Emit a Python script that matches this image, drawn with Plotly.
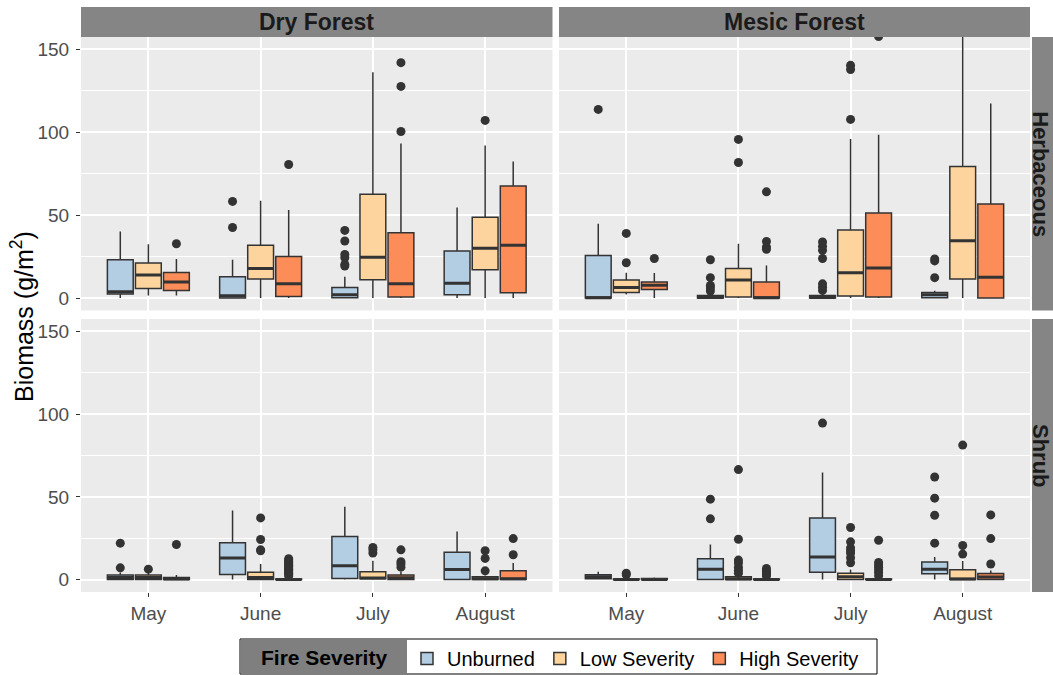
import plotly.graph_objects as go

# ---------------- data ----------------
MONTHS = ["May", "June", "July", "August"]
SEVERITIES = ["Unburned", "Low Severity", "High Severity"]
FILLS = ["#B3CDE3", "#FDD49E", "#FC8D59"]
FORESTS = ["Dry Forest", "Mesic Forest"]
GROWTH_FORMS = ["Herbaceous", "Shrub"]
Y_TICK_STEP = 50

# each box: lower whisker, Q1, median, Q3, upper whisker (one value per month)
DRY_HERB_UNBURNED = {
    "lower": [0, 0, 0, 0], "q1": [2.4, 0, 0.2, 2.0], "median": [3.8, 1.4, 2.0, 9.0],
    "q3": [23.1, 12.9, 6.4, 28.4], "upper": [40.2, 23.1, 12.9, 54.7],
    "outliers": [[], [58.3, 42.6], [40.8, 34.4, 26.3, 24.3, 20.3, 19.3], []]}
DRY_HERB_LOW = {
    "lower": [1.6, 0, 0, 0], "q1": [5.8, 11.5, 11.1, 17.1], "median": [13.9, 17.9, 24.7, 30.0],
    "q3": [21.1, 31.8, 62.7, 48.7], "upper": [32.4, 58.7, 136.3, 92.1],
    "outliers": [[], [], [], [107.2]]}
DRY_HERB_HIGH = {
    "lower": [1.6, 0, 0, 0], "q1": [4.6, 1.0, 0.6, 3.2], "median": [9.7, 8.6, 8.6, 31.8],
    "q3": [15.5, 25.1, 39.4, 67.6], "upper": [23.5, 53.1, 93.3, 82.4],
    "outliers": [[32.8], [80.6], [142.0, 127.7, 100.5], []]}

MESIC_HERB_UNBURNED = {
    "lower": [0, 0, 0, 0], "q1": [0, 0, 0, 0.2], "median": [0.2, 0.4, 0.4, 2.0],
    "q3": [25.7, 1.6, 1.6, 3.4], "upper": [44.8, 3.5, 3.0, 4.4],
    "outliers": [[113.8], [23.1, 12.3, 7.6, 6.0, 4.2],
                 [33.8, 31.2, 28.8, 23.9, 8.6, 6.6, 4.6], [23.6, 22.4, 12.3]]}
MESIC_HERB_LOW = {
    "lower": [2.2, 0, 0, 0], "q1": [3.4, 0.6, 1.2, 11.5], "median": [6.4, 10.9, 15.3, 34.6],
    "q3": [10.9, 17.9, 41.0, 79.4], "upper": [15.3, 32.8, 95.9, 185.0],
    "outliers": [[39.0, 21.3], [95.7, 81.8], [140.4, 137.9, 107.8], []]}
MESIC_HERB_HIGH = {
    "lower": [0, 0, 0, 0], "q1": [5.2, 0, 0.6, 0], "median": [7.8, 0.2, 18.1, 12.5],
    "q3": [9.7, 9.7, 51.3, 56.7], "upper": [15.1, 19.7, 98.5, 117.4],
    "outliers": [[23.9], [64.1, 34.2, 30.8, 29.4], [157.8], []]}

DRY_SHRUB_UNBURNED = {
    "lower": [0, 0, 0, 0], "q1": [0, 3.1, 0.7, 0], "median": [1.3, 13.0, 8.3, 6.1],
    "q3": [2.7, 22.2, 26.0, 16.6], "upper": [4.3, 41.7, 44.1, 29.1],
    "outliers": [[22.0, 7.1], [], [], []]}
DRY_SHRUB_LOW = {
    "lower": [0, 0, 0, 0], "q1": [0, 0, 0.5, 0], "median": [1.3, 1.3, 0.9, 0.5],
    "q3": [2.7, 4.5, 4.7, 1.7], "upper": [4.3, 9.4, 11.4, 2.5],
    "outliers": [[6.3], [37.3, 24.2, 18.0, 17.4], [19.4, 18.0, 16.0], [17.4, 12.8, 5.3]]}
DRY_SHRUB_HIGH = {
    "lower": [0, 0, 0, 0], "q1": [0, 0, 0, 0], "median": [0.3, 0, 1.1, 0.5],
    "q3": [1.3, 0.4, 2.7, 5.3], "upper": [2.7, 1.0, 4.7, 10.0],
    "outliers": [[21.2],
                 [12.6, 11.8, 11.0, 10.2, 9.4, 8.6, 7.8, 7.0, 6.2, 5.4, 4.6, 3.8, 3.0, 2.2],
                 [18.0, 10.8, 9.4, 7.5], [24.8, 15.0]]}

MESIC_SHRUB_UNBURNED = {
    "lower": [0, 0, 0, 0], "q1": [0.5, 0, 4.5, 3.5], "median": [1.7, 6.3, 13.6, 6.3],
    "q3": [2.9, 12.6, 37.3, 10.6], "upper": [4.7, 21.2, 64.8, 13.6],
    "outliers": [[], [48.6, 36.7], [94.6], [62.0, 49.2, 38.9, 22.0]]}
MESIC_SHRUB_LOW = {
    "lower": [0, 0, 0, 0], "q1": [0, 0, 0, 0], "median": [0, 0.4, 1.7, 0.3],
    "q3": [0.3, 1.7, 3.9, 5.9], "upper": [0.7, 3.5, 6.1, 11.2],
    "outliers": [[3.9, 2.9], [66.5, 24.4, 11.8, 10.0, 7.5, 5.7, 3.9],
                 [31.5, 22.8, 19.2, 17.5, 16.0, 13.2, 10.2], [81.3, 20.6, 15.4]]}
MESIC_SHRUB_HIGH = {
    "lower": [0, 0, 0, 0], "q1": [0, 0, 0, 0], "median": [0.1, 0, 0, 1.5],
    "q3": [0.7, 0.3, 0.3, 3.7], "upper": [1.2, 0.8, 0.8, 5.5],
    "outliers": [[], [6.7, 5.3, 4.3, 3.1, 2.1], [23.8, 10.4, 9.0, 7.5, 5.9, 4.3, 2.3],
                 [39.1, 24.8, 9.4]]}

# panel layout: (row, col) -> series per severity
PANELS = {
    (0, 0): [DRY_HERB_UNBURNED, DRY_HERB_LOW, DRY_HERB_HIGH],
    (0, 1): [MESIC_HERB_UNBURNED, MESIC_HERB_LOW, MESIC_HERB_HIGH],
    (1, 0): [DRY_SHRUB_UNBURNED, DRY_SHRUB_LOW, DRY_SHRUB_HIGH],
    (1, 1): [MESIC_SHRUB_UNBURNED, MESIC_SHRUB_LOW, MESIC_SHRUB_HIGH],
}

# ---------------- geometry (pixels of the 1053x675 page) ----------------
W, H = 1053, 675
PL, PR, PT, PB = 81, 1030, 37, 592
COL_EDGES = [(81, 552.5), (559, 1030)]
ROW_EDGES = [(37, 310.5), (319, 592)]


def fx(p):
    return (p - PL) / (PR - PL)


def fy(p):
    return (PB - p) / (PB - PT)


FONT = "Liberation Sans, Arial, Helvetica, sans-serif"
LINE = "#333333"
GRID = "#FFFFFF"

fig = go.Figure()
layout = {}

for (r, c), series in PANELS.items():
    n = r * 2 + c + 1
    xa = "x" if n == 1 else f"x{n}"
    ya = "y" if n == 1 else f"y{n}"
    for k, (sev, fill, d) in enumerate(zip(SEVERITIES, FILLS, series)):
        common = dict(x=MONTHS, xaxis=xa, yaxis=ya, offsetgroup=sev,
                      alignmentgroup=f"box{n}", whiskerwidth=0, boxpoints=False,
                      hoverinfo="skip")
        fig.add_trace(go.Box(
            name=sev, legendgroup=sev, showlegend=(n == 1),
            q1=d["q1"], median=d["median"], q3=d["q3"],
            lowerfence=d["lower"], upperfence=d["upper"],
            fillcolor=fill, line=dict(color=LINE, width=1.5), **common))
        # thicker median bar drawn as a zero-height box on top
        fig.add_trace(go.Box(
            name=sev, legendgroup=sev, showlegend=False,
            q1=d["median"], median=d["median"], q3=d["median"],
            lowerfence=d["median"], upperfence=d["median"],
            fillcolor="rgba(0,0,0,0)", line=dict(color=LINE, width=3), **common))
        ox, oy = [], []
        for m, vals in zip(MONTHS, d["outliers"]):
            for v in vals:
                ox.append(m)
                oy.append(v)
        fig.add_trace(go.Scatter(
            x=ox, y=oy, xaxis=xa, yaxis=ya, mode="markers",
            offsetgroup=sev, alignmentgroup=f"pts{n}",
            marker=dict(color=LINE, size=9), showlegend=False,
            legendgroup=sev, hoverinfo="skip", cliponaxis=True))

    x0, x1 = COL_EDGES[c]
    y0, y1 = ROW_EDGES[r]
    layout["xaxis" if n == 1 else f"xaxis{n}"] = dict(
        domain=[fx(x0), fx(x1)], anchor=ya, type="category",
        categoryorder="array", categoryarray=MONTHS, range=[-0.6, 3.6],
        showgrid=True, gridcolor=GRID, gridwidth=2, zeroline=False, showline=False,
        ticks="outside" if r == 1 else "", ticklen=4, tickcolor=LINE,
        showticklabels=(r == 1), tickfont=dict(family=FONT, size=19, color="#4D4D4D"))
    layout["yaxis" if n == 1 else f"yaxis{n}"] = dict(
        domain=[fy(y1), fy(y0)], anchor=xa, range=[-7.5, 157.5],
        tickmode="linear", tick0=0, dtick=Y_TICK_STEP,
        showgrid=True, gridcolor=GRID, gridwidth=2, zeroline=False, showline=False,
        minor=dict(dtick=Y_TICK_STEP / 2, tick0=0, showgrid=True, gridcolor=GRID,
                   gridwidth=1, ticks=""),
        ticks="outside" if c == 0 else "", ticklen=4, tickcolor=LINE,
        showticklabels=(c == 0), ticklabelstandoff=3,
        tickfont=dict(family=FONT, size=19, color="#4D4D4D"))

STRIP = "#858585"
shapes = []
annotations = []
for c, name in enumerate(FORESTS):
    x0, x1 = COL_EDGES[c]
    shapes.append(dict(type="rect", xref="paper", yref="paper", x0=fx(x0), x1=fx(x1),
                       y0=fy(37), y1=fy(7), fillcolor=STRIP, line=dict(width=0)))
    annotations.append(dict(text=f"<b>{name}</b>", xref="paper", yref="paper",
                            x=fx((x0 + x1) / 2), y=fy(22), showarrow=False,
                            xanchor="center", yanchor="middle",
                            font=dict(family=FONT, size=23, color="#1A1A1A")))
for r, name in enumerate(GROWTH_FORMS):
    y0, y1 = ROW_EDGES[r]
    shapes.append(dict(type="rect", xref="paper", yref="paper", x0=fx(1032), x1=fx(1070),
                       y0=fy(y1), y1=fy(y0), fillcolor=STRIP, line=dict(width=0)))
    annotations.append(dict(text=f"<b>{name}</b>", xref="paper", yref="paper",
                            x=fx(1040.5), y=fy((y0 + y1) / 2), showarrow=False,
                            textangle=90, xanchor="center", yanchor="middle",
                            font=dict(family=FONT, size=22, color="#1A1A1A")))

# y-axis title
annotations.append(dict(text="Biomass (g/m<sup>2</sup>)", xref="paper", yref="paper",
                        x=fx(22), y=fy(317), showarrow=False, textangle=-90,
                        xanchor="center", yanchor="middle",
                        font=dict(family=FONT, size=25, color="#000000")))

# legend frame and title
shapes.append(dict(type="rect", xref="paper", yref="paper", x0=fx(240), x1=fx(877),
                   y0=fy(674), y1=fy(639), fillcolor="#FFFFFF",
                   line=dict(color="#000000", width=1)))
shapes.append(dict(type="rect", xref="paper", yref="paper", x0=fx(240.5), x1=fx(407),
                   y0=fy(673.5), y1=fy(639.5), fillcolor="#7F7F7F", line=dict(width=0)))
annotations.append(dict(text="<b>Fire Severity</b>", xref="paper", yref="paper",
                        x=fx(323.5), y=fy(657), showarrow=False,
                        xanchor="center", yanchor="middle",
                        font=dict(family=FONT, size=21, color="#000000")))

fig.update_layout(
    width=W, height=H,
    margin=dict(l=PL, r=W - PR, t=PT, b=H - PB, pad=0, autoexpand=False),
    paper_bgcolor="#FFFFFF", plot_bgcolor="#EBEBEB",
    boxmode="group", boxgap=0.25, boxgroupgap=0.08,
    scattermode="group", scattergap=0.25,
    shapes=shapes, annotations=annotations,
    showlegend=True,
    legend=dict(orientation="h", x=fx(407), y=fy(639), xanchor="left", yanchor="top",
                bgcolor="rgba(0,0,0,0)", borderwidth=0, itemwidth=30,
                font=dict(family=FONT, size=20, color="#000000"), traceorder="normal"),
    font=dict(family=FONT),
    **layout,
)

fig.write_html("out.html")
